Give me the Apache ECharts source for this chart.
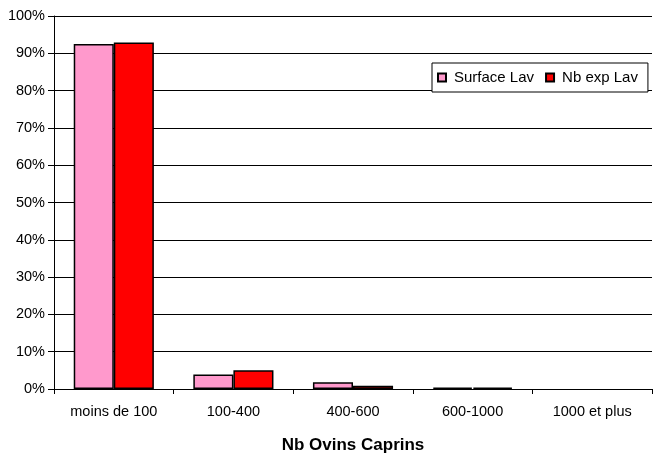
<!DOCTYPE html>
<html>
<head>
<meta charset="utf-8">
<script src="https://cdn.jsdelivr.net/npm/echarts@6/dist/echarts.min.js"></script>
<style>
  html, body { margin: 0; padding: 0; background: #fff; }
  #chart { width: 656px; height: 461px; }
</style>
</head>
<body>
<div id="chart"></div>
<script>
// classes de taille du troupeau
const categories = ['moins de 100', '100-400', '400-600', '600-1000', '1000 et plus']
// parts en %
const surfaceLav = [92.5, 3.9, 1.8, 0.4, 0]
const nbExpLav = [92.9, 5.0, 0.9, 0.4, 0]

// une barre à 0 n'est pas dessinée dans l'original
const hideZero = (arr) => arr.map((v) => (v === 0 ? null : v))

const chart = echarts.init(document.getElementById('chart'))
const font = 'Liberation Sans, Arial, sans-serif'

chart.setOption({
  animation: false,
  textStyle: { fontFamily: font },
  grid: {
    left: 54,
    right: 4,
    top: 16,
    bottom: 72
  },
  legend: {
    left: 432,
    top: 63,
    padding: [7, 10, 7, 5],
    itemGap: 11,
    itemWidth: 8,
    itemHeight: 8,
    icon: 'rect',
    backgroundColor: '#fff',
    borderColor: '#000',
    borderWidth: 1,
    textStyle: { fontSize: 15, color: '#000', fontFamily: font, padding: [0, 0, 0, 3] },
    data: ['Surface Lav', 'Nb exp Lav']
  },
  xAxis: {
    type: 'category',
    data: categories,
    name: 'Nb Ovins Caprins',
    nameLocation: 'middle',
    nameGap: 48,
    nameTextStyle: { fontSize: 17, fontWeight: 'bold', color: '#000', fontFamily: font },
    axisLine: { lineStyle: { color: '#000', width: 1 } },
    axisTick: { show: true, length: 5, lineStyle: { color: '#000' } },
    axisLabel: { fontSize: 14.5, color: '#000', margin: 15, interval: 0 }
  },
  yAxis: {
    type: 'value',
    min: 0,
    max: 100,
    interval: 10,
    axisLine: { show: true, lineStyle: { color: '#000' } },
    axisTick: { show: true, length: 6, lineStyle: { color: '#000' } },
    axisLabel: { fontSize: 14.5, color: '#000', margin: 9, formatter: '{value}%' },
    splitLine: { show: true, lineStyle: { color: '#000', width: 1 } }
  },
  series: [
    {
      name: 'Surface Lav',
      type: 'bar',
      data: hideZero(surfaceLav),
      barGap: '0%',
      barCategoryGap: '33%',
      itemStyle: { color: '#FF99CC', borderColor: '#000', borderWidth: 1.5 }
    },
    {
      name: 'Nb exp Lav',
      type: 'bar',
      data: hideZero(nbExpLav),
      itemStyle: { color: '#FF0000', borderColor: '#000', borderWidth: 1.5 }
    }
  ]
})
</script>
</body>
</html>
